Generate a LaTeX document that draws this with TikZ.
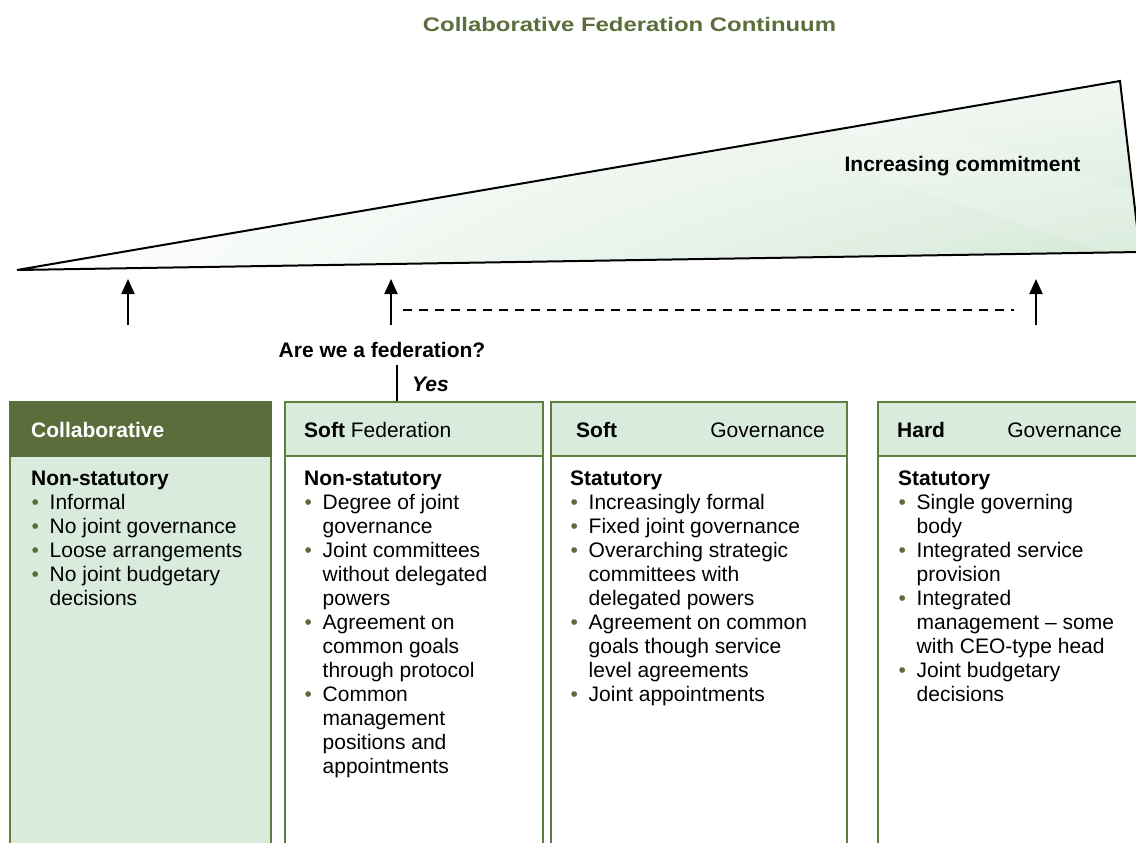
\documentclass[tikz,border=0pt]{standalone}
\usepackage{graphicx}
\usepackage{fontspec}
\setmainfont{Liberation Sans}
\usetikzlibrary{arrows.meta,shadings}
\definecolor{dkgreen}{HTML}{5B6D3A}
\definecolor{ltgreen}{HTML}{D8EBDC}
\definecolor{bordergreen}{HTML}{5F7F3F}
\definecolor{bulc}{HTML}{5B6D3A}
\definecolor{trigreen}{HTML}{D3E8D6}
\definecolor{trilight}{HTML}{F1F7F2}
\newcommand\bitem{\makebox[18.5pt][l]{\hspace{0.5pt}\textcolor{bulc}{•}}}
\newcommand\bindent{\hspace*{18.5pt}}
\begin{document}
\begin{tikzpicture}[x=1pt,y=-1pt,
  txt/.style={anchor=base west, inner sep=0pt, font=\fontsize{21}{24}\selectfont},
  hdrbox/.style={anchor=north west, draw=bordergreen, line width=2pt, inner sep=0pt, minimum height=54pt},
  bodybox/.style={anchor=north west, draw=bordergreen, line width=2pt, inner sep=0pt, minimum height=420pt},
  arr/.style={line width=2pt, -{Triangle[width=13pt,length=15pt]}},
  dashln/.style={line width=1.6pt, dash pattern=on 9pt off 7pt}]
\useasboundingbox (0,0) rectangle (1136,843);
\clip (0,0) rectangle (1136,843);

% title
\node[anchor=base, inner sep=0pt, text=dkgreen, font=\bfseries\fontsize{19.6}{22}\selectfont] (title) at (629.5,32) {\scalebox{1.22}[1]{Collaborative Federation Continuum}};

% wedge
\shade[upper left=white, upper right=trilight, lower left=white, lower right=trigreen] (17,270) -- (1120,81) -- (1140,252) -- cycle;
\fill[white, opacity=0.15, rotate around={-18:(1000,180)}] (840,150) rectangle (1160,215);
\draw[line width=2pt, line join=miter] (17,270) -- (1120,81) -- (1140,252) -- cycle;
\node[anchor=base, inner sep=0pt, font=\bfseries\fontsize{21}{24}\selectfont] (incr) at (962.5,171) {Increasing commitment};

% arrows
\coordinate (a1s) at (128,325); \coordinate (a1e) at (128,279);
\coordinate (a2s) at (391,325); \coordinate (a2e) at (391,279);
\coordinate (a3s) at (1036,325); \coordinate (a3e) at (1036,279);
\draw[arr] (a1s) -- (a1e);
\draw[arr] (a2s) -- (a2e);
\draw[arr] (a3s) -- (a3e);
\coordinate (d1) at (403,310); \coordinate (d2) at (1014,310);
\draw[dashln] (d1) -- (d2);

\node[anchor=base, inner sep=0pt, font=\bfseries\fontsize{21}{24}\selectfont] (q) at (382,357) {Are we a federation?};
\coordinate (ys) at (397,365);
\node[anchor=base west, inner sep=0pt, font=\bfseries\itshape\fontsize{21}{24}\selectfont] (yes) at (412,391) {Yes};

% boxes
\node[bodybox, fill=ltgreen, minimum width=261pt] (b1) at (9,455) {};
\node[hdrbox, fill=dkgreen, draw=dkgreen, minimum width=261pt] (h1) at (9,401) {};
\node[bodybox, fill=white, minimum width=258pt] (b2) at (284,455) {};
\node[hdrbox, fill=ltgreen, minimum width=258pt] (h2) at (284,401) {};
\node[bodybox, fill=white, minimum width=296pt] (b3) at (550,455) {};
\node[hdrbox, fill=ltgreen, minimum width=296pt] (h3) at (550,401) {};
\node[bodybox, fill=white, minimum width=270pt] (b4) at (877,455) {};
\node[hdrbox, fill=ltgreen, minimum width=270pt] (h4) at (877,401) {};

\draw[line width=2pt] (ys) -- (h2.north -| ys);

% header labels
\node[txt, text=white, font=\bfseries\fontsize{21}{24}\selectfont] (l1) at (31,437) {Collaborative};
\node[txt] (l2) at (304,437) {\textbf{Soft} Federation};
\node[txt] (l3a) at (576,437) {\textbf{Soft}};
\node[txt, anchor=base east] (l3b) at (825,437) {Governance};
\node[txt] (l4a) at (897,437) {\textbf{Hard}};
\node[txt, anchor=base east] (l4b) at (1122,437) {Governance};

% body texts
\foreach [count=\i from 0] \t in {\textbf{Non-statutory}, \bitem Informal, \bitem No joint governance, \bitem Loose arrangements, \bitem No joint budgetary, \bindent decisions}
  \node[txt] (t1-\i) at (31,{485+24*\i}) {\t};
\foreach [count=\i from 0] \t in {\textbf{Non-statutory}, \bitem Degree of joint, \bindent governance, \bitem Joint committees, \bindent without delegated, \bindent powers, \bitem Agreement on, \bindent common goals, \bindent through protocol, \bitem Common, \bindent management, \bindent positions and, \bindent appointments}
  \node[txt] (t2-\i) at (304,{485+24*\i}) {\t};
\foreach [count=\i from 0] \t in {\textbf{Statutory}, \bitem Increasingly formal, \bitem Fixed joint governance, \bitem Overarching strategic, \bindent committees with, \bindent delegated powers, \bitem Agreement on common, \bindent goals though service, \bindent level agreements, \bitem Joint appointments}
  \node[txt] (t3-\i) at (570,{485+24*\i}) {\t};
\foreach [count=\i from 0] \t in {\textbf{Statutory}, \bitem Single governing, \bindent body, \bitem Integrated service, \bindent provision, \bitem Integrated, \bindent management – some, \bindent with CEO-type head, \bitem Joint budgetary, \bindent decisions}
  \node[txt] (t4-\i) at (898,{485+24*\i}) {\t};
\end{tikzpicture}
\end{document}
